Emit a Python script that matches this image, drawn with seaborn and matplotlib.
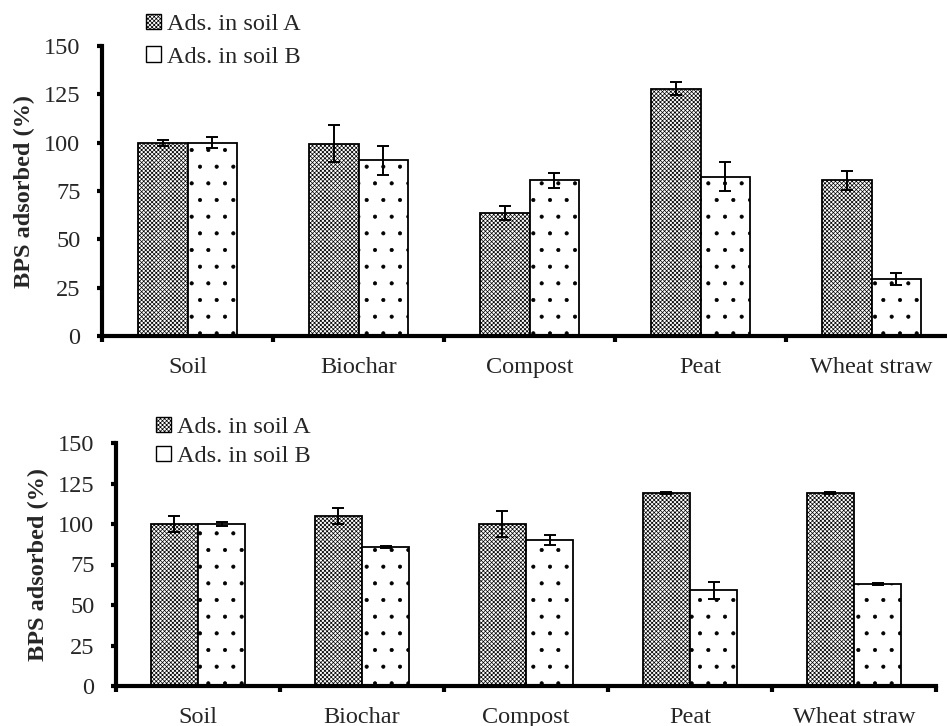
import numpy as np
import pandas as pd
import matplotlib
matplotlib.use("Agg")
import matplotlib.pyplot as plt
from matplotlib.patches import Patch
from matplotlib.ticker import FixedLocator
import seaborn as sns

# Materials and soil series
materials = ["Soil", "Biochar", "Compost", "Peat", "Wheat straw"]
series = ["Ads. in soil A", "Ads. in soil B"]

# Upper panel: BPS adsorbed (%) and error
top_a = [100, 99.5, 63.5, 128, 80.5]
top_a_err = [1.5, 9.5, 3.5, 3.5, 5.0]
top_b = [100, 91, 80.5, 82.5, 29.5]
top_b_err = [3.0, 7.5, 4.0, 7.5, 3.0]

# Lower panel: BPS adsorbed (%) and error
bot_a = [100, 105, 100, 119, 119]
bot_a_err = [5.0, 5.0, 8.0, 0.5, 0.5]
bot_b = [100, 86, 90, 59, 63]
bot_b_err = [1.2, 0.6, 3.0, 5.0, 0.8]

y_ticks = [0, 25, 50, 75, 100, 125, 150]

sns.set_theme(style="white")
plt.rcParams["font.family"] = ["Liberation Serif", "DejaVu Serif"]
plt.rcParams["hatch.linewidth"] = 0.5
plt.rcParams["hatch.color"] = "black"

FS = 17.5
W, H = 947, 726
fig = plt.figure(figsize=(W / 100, H / 100), dpi=100)
fig.patch.set_facecolor("white")

hatch_a = "xxxxxxxx"
hatch_b = "."


def panel(ax, a, a_err, b, b_err, xmax, label_x, legend_xy, legend_spacing):
    df = pd.DataFrame({
        "material": materials * 2,
        "soil": [series[0]] * len(materials) + [series[1]] * len(materials),
        "value": list(a) + list(b),
    })
    sns.barplot(data=df, x="material", y="value", hue="soil", order=materials,
                hue_order=series, palette=["white", "white"], edgecolor="black",
                linewidth=1.3, width=0.575, errorbar=None, legend=False, ax=ax,
                zorder=2)
    for cont, hatch, err in zip(ax.containers, [hatch_a, hatch_b], [a_err, b_err]):
        xs, ys = [], []
        for bar in cont:
            bar.set_hatch(hatch)
            bar.set_edgecolor("black")
            xs.append(bar.get_x() + bar.get_width() / 2)
            ys.append(bar.get_height())
        ax.errorbar(xs, ys, yerr=err, fmt="none", ecolor="black",
                    elinewidth=1.4, capsize=4, capthick=1.4, zorder=3)

    ax.set_xlim(-0.5, xmax)
    ax.set_ylim(0, 150)
    ax.set_yticks(y_ticks)
    ax.set_yticklabels([str(t) for t in y_ticks], fontsize=FS)
    ax.set_xticks(range(len(materials)))
    ax.set_xticklabels(materials, fontsize=FS)
    ax.xaxis.set_minor_locator(FixedLocator(np.arange(-0.5, 5.0, 1.0)))
    ax.tick_params(axis="x", which="major", length=0, pad=15)
    ax.tick_params(axis="x", which="minor", length=4, width=3, direction="out",
                   bottom=True, color="black")
    ax.tick_params(axis="y", which="major", length=3.5, width=3, direction="out",
                   left=True, pad=12, color="black")
    ax.set_xlabel("")
    ax.set_ylabel("BPS adsorbed (%)", fontsize=FS, fontweight="bold")
    ax.yaxis.label.set_va("center")
    pos = ax.get_position()
    ax.yaxis.set_label_coords((label_x / W - pos.x0) / pos.width, 0.5)
    for side in ["top", "right"]:
        ax.spines[side].set_visible(False)
    for side in ["left", "bottom"]:
        ax.spines[side].set_linewidth(3)
        ax.spines[side].set_color("black")
    ax.set_facecolor("white")

    handles = [Patch(facecolor="white", edgecolor="black", hatch=hatch_a, linewidth=1.0),
               Patch(facecolor="white", edgecolor="black", linewidth=1.0)]
    fig.legend(handles, series, loc="upper left",
               bbox_to_anchor=(legend_xy[0] / W, 1 - legend_xy[1] / H),
               frameon=False, fontsize=FS, handlelength=0.6, handleheight=0.6,
               handletextpad=0.25, labelspacing=legend_spacing, borderpad=0,
               borderaxespad=0)


ax1 = fig.add_axes([102 / W, 1 - 336 / H, (W - 102) / W, 290 / H])
panel(ax1, top_a, top_a_err, top_b, top_b_err, -0.5 + (W - 102) / 171, 24,
      (146, 14), 0.45)

ax2 = fig.add_axes([116 / W, 1 - 686 / H, 820 / W, 243 / H])
panel(ax2, bot_a, bot_a_err, bot_b, bot_b_err, 4.5, 38, (156, 417), 0.3)

fig.savefig("out.png", dpi=100, facecolor="white")
